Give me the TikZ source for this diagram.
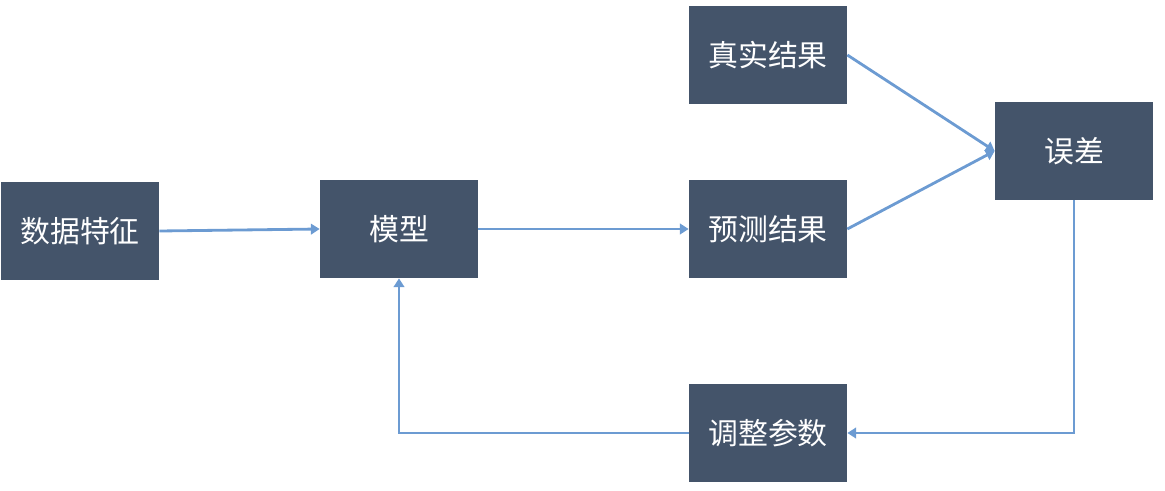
\documentclass[tikz,border=0pt]{standalone}
\usepackage{fontspec}
\setmainfont{Noto Sans CJK SC}
\usetikzlibrary{arrows.meta}
\definecolor{boxgray}{HTML}{44546A}
\definecolor{lineblue}{HTML}{6C9BD2}
\begin{document}
\begin{tikzpicture}[x=0.02cm, y=-0.02cm,
    box/.style={rectangle, fill=boxgray, text=white, minimum width=3.16cm, minimum height=1.96cm, font=\fontsize{17}{20}\selectfont},
    link/.style={draw=lineblue, line width=1.6pt, -{Triangle[length=5pt, width=6pt]}}]
    \useasboundingbox (0,0) rectangle (1165,490);
    \node[box] (shuju) at (80,231) {数据特征};
    \node[box] (moxing) at (399,229) {模型};
    \node[box] (zhenshi) at (768,55) {真实结果};
    \node[box] (yuce) at (768,229) {预测结果};
    \node[box] (wucha) at (1074,151) {误差};
    \node[box] (tiaozheng) at (768,433) {调整参数};

    \foreach \source/\dest in {shuju.east/moxing.west, moxing.east/yuce.west, zhenshi.east/wucha.west, yuce.east/wucha.west}
      \path[link] (\source) -- (\dest);
    \path[link] (wucha.south) |- (tiaozheng.east);
    \path[link] (tiaozheng.west) -| (moxing.south);
  \end{tikzpicture}
\end{document}
